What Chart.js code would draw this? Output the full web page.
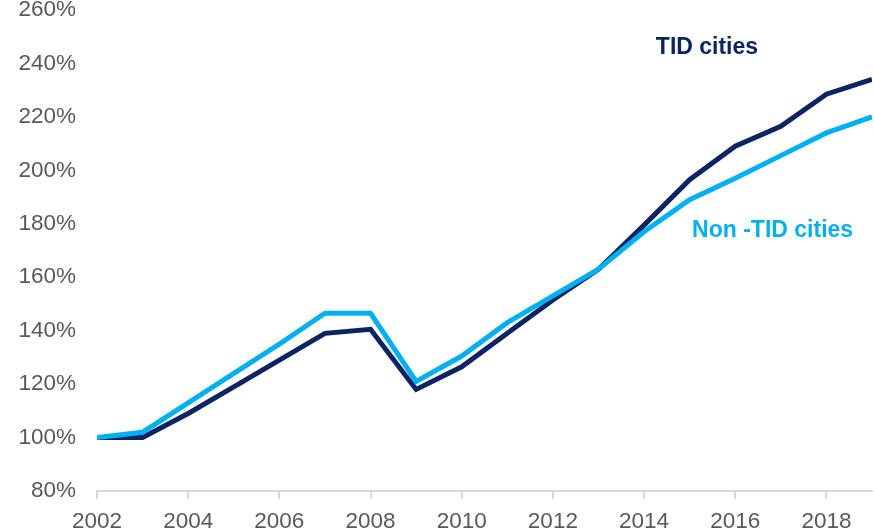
<!DOCTYPE html>
<html>
<head>
<meta charset="utf-8">
<script src="https://cdn.jsdelivr.net/npm/chart.js@4/dist/chart.umd.min.js"></script>
<style>
  html, body { margin: 0; padding: 0; background: #ffffff; overflow: hidden; }
  #wrap { width: 874px; height: 530px; position: relative; }
</style>
</head>
<body>
<div id="wrap"><canvas id="c"></canvas></div>
<script>
const years = [2002,2003,2004,2005,2006,2007,2008,2009,2010,2011,2012,2013,2014,2015,2016,2017,2018,2019];
const tidCities = [100,100,109,119,129,139,140.5,118,126.5,139,151.5,163,179.5,196.5,209,216.5,228.5,234];
const nonTidCities = [100,102,113,124,135,146.5,146.5,121,130.5,143,153,163,177,189,197,205.5,214,220];
const seriesNames = ["TID cities", "Non -TID cities"];
const yTickMin = 80, yTickMax = 260, yTickStep = 20;

const darkBlue = "#0c2461";
const lightBlue = "#00b0f0";
const fontFamily = "'Liberation Sans', Arial, sans-serif";

const labelPlugin = {
  id: "seriesLabels",
  afterDatasetsDraw(chart) {
    const { ctx, scales: { x, y } } = chart;
    ctx.save();
    ctx.font = "bold 23px " + fontFamily;
    ctx.textAlign = "center";
    ctx.textBaseline = "middle";
    ctx.fillStyle = darkBlue;
    ctx.fillText(seriesNames[0], x.getPixelForValue(2015.38), y.getPixelForValue(245.8));
    ctx.fillStyle = lightBlue;
    ctx.fillText(seriesNames[1], x.getPixelForValue(2016.82), y.getPixelForValue(177.3));
    ctx.restore();
  }
};

new Chart(document.getElementById("c"), {
  type: "line",
  data: {
    datasets: [
      {
        label: seriesNames[1],
        data: years.map((yr, i) => ({ x: yr, y: nonTidCities[i] })),
        borderColor: lightBlue,
        borderWidth: 5,
        pointRadius: 0,
        tension: 0,
        fill: false
      },
      {
        label: seriesNames[0],
        data: years.map((yr, i) => ({ x: yr, y: tidCities[i] })),
        borderColor: darkBlue,
        borderWidth: 5,
        pointRadius: 0,
        tension: 0,
        fill: false
      }
    ]
  },
  options: {
    responsive: true,
    maintainAspectRatio: false,
    animation: false,
    layout: { padding: { left: 0, right: 2, top: 0, bottom: 0 } },
    plugins: { legend: { display: false }, tooltip: { enabled: false } },
    scales: {
      x: {
        type: "linear",
        min: years[0],
        max: years[years.length - 1],
        border: { display: true, color: "#d9d9d9", width: 2 },
        grid: { display: true, drawOnChartArea: false, drawTicks: true, tickLength: 8, color: "#d9d9d9", lineWidth: 2 },
        afterFit: (s) => { s.height = 39; },
        ticks: {
          stepSize: 2,
          includeBounds: false,
          maxRotation: 0,
          padding: 9,
          color: "#595959",
          font: { family: fontFamily, size: 22.5 },
          callback: (v) => String(v)
        }
      },
      y: {
        min: yTickMin,
        max: yTickMax,
        border: { display: false },
        grid: { display: false, drawTicks: false },
        afterFit: (s) => { s.width = 97; s.paddingTop = 10; s.paddingBottom = 0; },
        ticks: {
          stepSize: yTickStep,
          padding: 21,
          color: "#595959",
          font: { family: fontFamily, size: 22.5 },
          callback: (v) => v + "%"
        }
      }
    }
  },
  plugins: [labelPlugin]
});
</script>
</body>
</html>
